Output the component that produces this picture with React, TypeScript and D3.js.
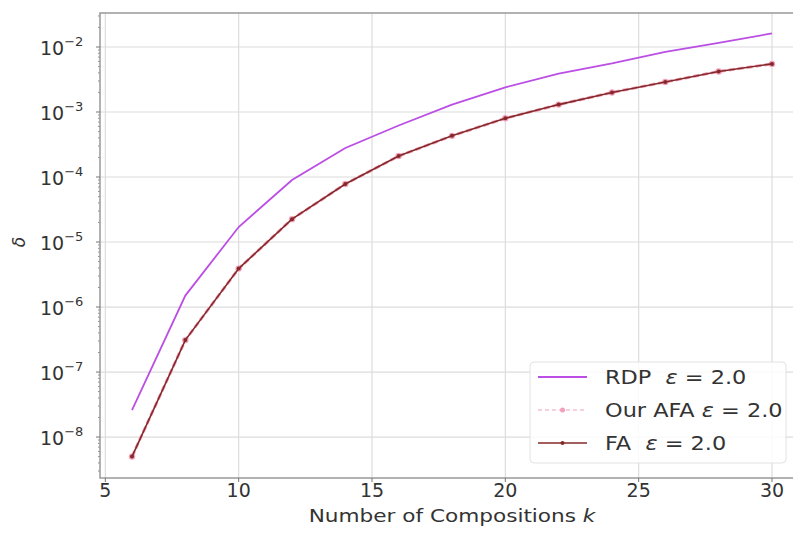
import React, { useRef, useEffect } from "react";
import * as d3 from "d3";

// compositions k
const ks = [6, 8, 10, 12, 14, 16, 18, 20, 22, 24, 26, 28, 30];
// delta values
const rdp = [2.6e-8, 1.5e-6, 1.7e-5, 9.0e-5, 2.8e-4, 6.2e-4, 1.3e-3, 2.4e-3, 3.9e-3, 5.6e-3, 8.4e-3, 1.16e-2, 1.62e-2];
const afa = [5.0e-9, 3.1e-7, 3.9e-6, 2.25e-5, 7.8e-5, 2.1e-4, 4.3e-4, 8.0e-4, 1.3e-3, 2.0e-3, 2.9e-3, 4.2e-3, 5.5e-3];
const fa = [5.0e-9, 3.1e-7, 3.9e-6, 2.25e-5, 7.8e-5, 2.1e-4, 4.3e-4, 8.0e-4, 1.3e-3, 2.0e-3, 2.9e-3, 4.2e-3, 5.5e-3];
const xTicks = [5, 10, 15, 20, 25, 30];
const yExps = [-8, -7, -6, -5, -4, -3, -2];

const App = () => {
  const ref = useRef<SVGSVGElement>(null);

  useEffect(() => {
    if (!ref.current) return;
    const svg = d3.select(ref.current);
    svg.selectAll("*").remove();

    const left = 100, right = 804, top = 13, bottom = 478;
    const font = "DejaVu Sans, sans-serif";

    const x = d3.scaleLinear().domain([4.8, 31.2]).range([left, right]);
    const y = d3.scaleLog().domain([Math.pow(10, -8.63), Math.pow(10, -1.477)]).range([bottom, top]);

    svg.append("rect").attr("x", 0).attr("y", 0).attr("width", 793).attr("height", 533).attr("fill", "#fff");

    const g = svg.append("g");

    // grid
    g.selectAll(".gx").data(xTicks).enter().append("line")
      .attr("x1", (d) => x(d)).attr("x2", (d) => x(d))
      .attr("y1", top).attr("y2", bottom)
      .attr("stroke", "#dcdcdc").attr("stroke-width", 1.2);
    g.selectAll(".gy").data(yExps).enter().append("line")
      .attr("x1", left).attr("x2", right)
      .attr("y1", (d) => y(Math.pow(10, d))).attr("y2", (d) => y(Math.pow(10, d)))
      .attr("stroke", "#dcdcdc").attr("stroke-width", 1.2);

    // minor ticks on y
    const minors: number[] = [];
    for (let e = -9; e <= -2; e++) {
      for (let m = 2; m <= 9; m++) {
        const v = m * Math.pow(10, e);
        if (v > y.domain()[0] && v < y.domain()[1]) minors.push(v);
      }
    }
    g.selectAll(".my").data(minors).enter().append("line")
      .attr("x1", left - 2).attr("x2", left)
      .attr("y1", (d) => y(d)).attr("y2", (d) => y(d))
      .attr("stroke", "#777").attr("stroke-width", 0.8);

    // spines
    g.append("rect")
      .attr("x", left).attr("y", top).attr("width", right - left).attr("height", bottom - top)
      .attr("fill", "none").attr("stroke", "#999").attr("stroke-width", 1.5);

    // x ticks
    g.selectAll(".tx").data(xTicks).enter().append("line")
      .attr("x1", (d) => x(d)).attr("x2", (d) => x(d))
      .attr("y1", bottom).attr("y2", bottom + 4)
      .attr("stroke", "#777").attr("stroke-width", 1);
    g.selectAll(".lx").data(xTicks).enter().append("text")
      .attr("x", (d) => x(d)).attr("y", 497)
      .attr("text-anchor", "middle")
      .attr("font-family", font).attr("font-size", 19).attr("fill", "#333")
      .text((d) => d);

    // y ticks
    g.selectAll(".ty").data(yExps).enter().append("line")
      .attr("x1", left - 4).attr("x2", left)
      .attr("y1", (d) => y(Math.pow(10, d))).attr("y2", (d) => y(Math.pow(10, d)))
      .attr("stroke", "#777").attr("stroke-width", 1);
    const yl = g.selectAll(".ly").data(yExps).enter().append("text")
      .attr("x", 40).attr("y", (d) => y(Math.pow(10, d)) + 8)
      .attr("font-family", font).attr("fill", "#333");
    yl.append("tspan").attr("font-size", 19).text("10");
    yl.append("tspan").attr("font-size", 13).attr("dy", -9).text((d) => "\u2212" + Math.abs(d));

    g.append("text")
      .attr("transform", `translate(25,${y(1e-5)}) rotate(-90)`)
      .attr("text-anchor", "middle")
      .attr("font-family", font).attr("font-style", "italic").attr("font-size", 17).attr("fill", "#333")
      .text("δ");

    const xl = g.append("text")
      .attr("transform", `translate(${(left + right) / 2},522) scale(1.2,1)`)
      .attr("text-anchor", "middle")
      .attr("font-family", font).attr("font-size", 18).attr("fill", "#333");
    xl.append("tspan").text("Number of Compositions ");
    xl.append("tspan").attr("font-style", "italic").text("k");

    const line = d3.line<[number, number]>().x((d) => x(d[0])).y((d) => y(d[1]));
    const rdpColor = "#bb4ee4", afaColor = "#f2a0bc", faColor = "#842828";

    g.append("path").datum(ks.map((k, i) => [k, rdp[i]] as [number, number]))
      .attr("d", line).attr("fill", "none").attr("stroke", rdpColor).attr("stroke-width", 1.8);

    g.append("path").datum(ks.map((k, i) => [k, afa[i]] as [number, number]))
      .attr("d", line).attr("fill", "none").attr("stroke", afaColor).attr("stroke-width", 3)
      .attr("stroke-dasharray", "6,3");
    g.selectAll(".ma").data(ks.map((k, i) => [k, afa[i]])).enter().append("circle")
      .attr("cx", (d) => x(d[0])).attr("cy", (d) => y(d[1])).attr("r", 3.2).attr("fill", afaColor);

    g.append("path").datum(ks.map((k, i) => [k, fa[i]] as [number, number]))
      .attr("d", line).attr("fill", "none").attr("stroke", faColor).attr("stroke-width", 1.6);
    g.selectAll(".mf").data(ks.map((k, i) => [k, fa[i]])).enter().append("circle")
      .attr("cx", (d) => x(d[0])).attr("cy", (d) => y(d[1])).attr("r", 2).attr("fill", faColor);

    // legend
    const lg = g.append("g");
    lg.append("rect").attr("x", 530).attr("y", 362).attr("width", 256).attr("height", 101).attr("rx", 4)
      .attr("fill", "#fff").attr("fill-opacity", 0.85).attr("stroke", "#e2e2e2").attr("stroke-width", 1);
    const entries = [
      { name: "RDP", sep: "  ", color: rdpColor, dash: null, w: 1.8, marker: 0, yy: 377 },
      { name: "Our AFA", sep: " ", color: afaColor, dash: "4,3", w: 1.2, marker: 2.5, yy: 410 },
      { name: "FA", sep: "  ", color: faColor, dash: null, w: 1.6, marker: 2, yy: 443 },
    ];
    entries.forEach((e) => {
      const ln = lg.append("line").attr("x1", 538).attr("x2", 587).attr("y1", e.yy).attr("y2", e.yy)
        .attr("stroke", e.color).attr("stroke-width", e.w);
      if (e.dash) ln.attr("stroke-dasharray", e.dash);
      if (e.marker) lg.append("circle").attr("cx", 562.5).attr("cy", e.yy).attr("r", e.marker).attr("fill", e.color);
      const t = lg.append("text")
        .attr("transform", `translate(605,${e.yy + 7}) scale(1.18,1)`)
        .attr("font-family", font).attr("font-size", 19).attr("fill", "#333")
        .attr("xml:space", "preserve");
      t.append("tspan").text(e.name + e.sep);
      t.append("tspan").attr("font-style", "italic").text("ε");
      t.append("tspan").text(" = 2.0");
    });
  }, []);

  return (
    <svg ref={ref} width={793} height={533}
      style={{ position: "absolute", left: 0, top: 0, display: "block" }} />
  );
};

export default App;
